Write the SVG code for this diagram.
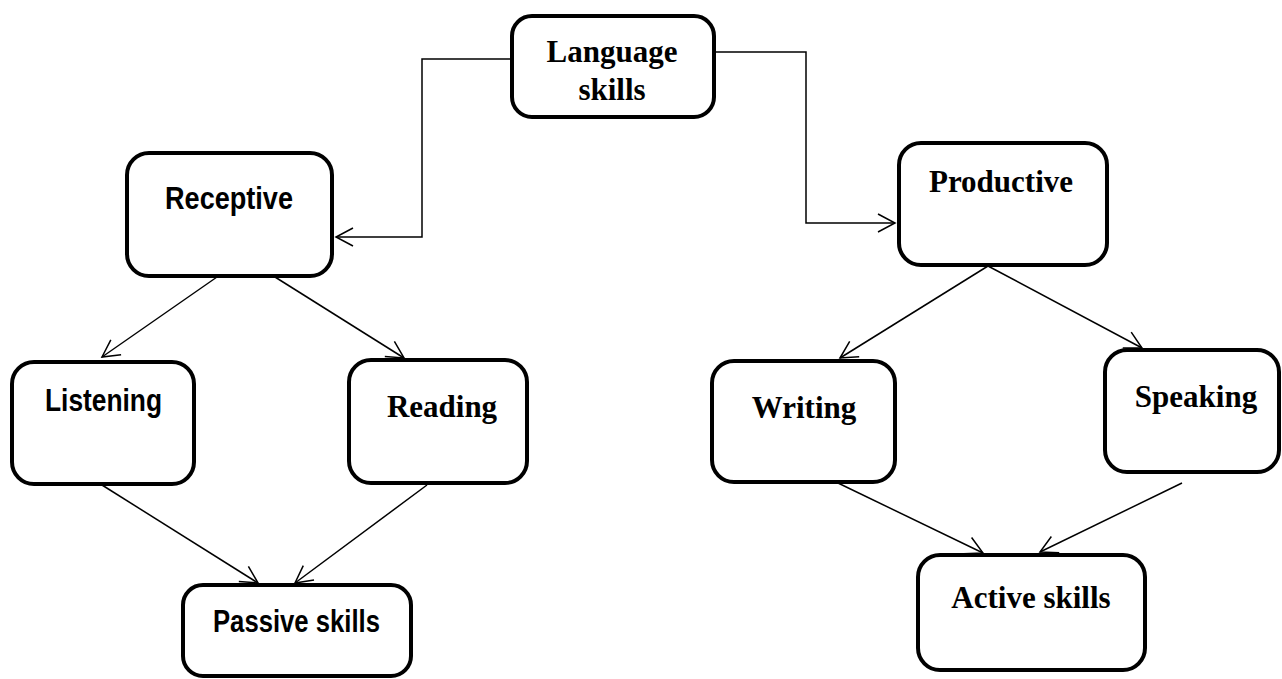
<svg xmlns="http://www.w3.org/2000/svg" width="1282" height="679" viewBox="0 0 1282 679">
<defs>
<style>
.box{fill:#fff;stroke:#000;stroke-width:4}
.serif{font-family:"Liberation Serif","Times New Roman",serif;font-weight:bold;font-size:31px;fill:#000;text-anchor:middle}
.sans{font-family:"Liberation Sans",Arial,sans-serif;font-weight:bold;font-size:31px;fill:#000}
.edge{fill:none;stroke:#000;stroke-width:1.5}
</style>
<marker id="arr" markerUnits="userSpaceOnUse" markerWidth="22" markerHeight="22" refX="17" refY="9" orient="auto" overflow="visible">
<path d="M0,0 L17,9 L0,18" fill="none" stroke="#000" stroke-width="1.5"/>
</marker>
</defs>
<rect width="1282" height="679" fill="#fff"/>
<g id="connectors">
<polyline class="edge" points="512,59 422,59 422,237 336,237" marker-end="url(#arr)"/>
<polyline class="edge" points="714,52 806,52 806,223 895,223" marker-end="url(#arr)"/>
<line class="edge" x1="217" y1="277" x2="102" y2="357" marker-end="url(#arr)"/>
<line class="edge" x1="275" y1="277" x2="404" y2="358" marker-end="url(#arr)"/>
<line class="edge" x1="102" y1="485" x2="258" y2="583" marker-end="url(#arr)"/>
<line class="edge" x1="427" y1="485" x2="295" y2="583" marker-end="url(#arr)"/>
<line class="edge" x1="988" y1="266" x2="840" y2="358" marker-end="url(#arr)"/>
<line class="edge" x1="988" y1="266" x2="1142" y2="348" marker-end="url(#arr)"/>
<line class="edge" x1="838" y1="483" x2="983" y2="553" marker-end="url(#arr)"/>
<line class="edge" x1="1182" y1="483" x2="1040" y2="552" marker-end="url(#arr)"/>
</g>
<g id="language">
<rect class="box" x="512" y="16" width="202" height="101" rx="20"/>
<text class="serif" x="612" y="62">Language</text>
<text class="serif" x="612" y="100">skills</text>
</g>
<g id="receptive">
<rect class="box" x="127" y="153" width="205" height="123" rx="22"/>
<text class="sans" x="165" y="209" textLength="128" lengthAdjust="spacingAndGlyphs">Receptive</text>
</g>
<g id="productive">
<rect class="box" x="899" y="143" width="208" height="122" rx="22"/>
<text class="serif" x="1001" y="192">Productive</text>
</g>
<g id="listening">
<rect class="box" x="12" y="362" width="182" height="122" rx="22"/>
<text class="sans" x="45" y="411" textLength="117" lengthAdjust="spacingAndGlyphs">Listening</text>
</g>
<g id="reading">
<rect class="box" x="349" y="360" width="178" height="123" rx="22"/>
<text class="serif" x="442" y="417">Reading</text>
</g>
<g id="writing">
<rect class="box" x="712" y="361" width="183" height="121" rx="22"/>
<text class="serif" x="804" y="418">Writing</text>
</g>
<g id="speaking">
<rect class="box" x="1105" y="350" width="174" height="122" rx="22"/>
<text class="serif" x="1196" y="407">Speaking</text>
</g>
<g id="passive">
<rect class="box" x="183" y="585" width="228" height="91" rx="20"/>
<text class="sans" x="213" y="632" textLength="167" lengthAdjust="spacingAndGlyphs">Passive skills</text>
</g>
<g id="active">
<rect class="box" x="918" y="555" width="227" height="115" rx="22"/>
<text class="serif" x="1031" y="608">Active skills</text>
</g>
</svg>
